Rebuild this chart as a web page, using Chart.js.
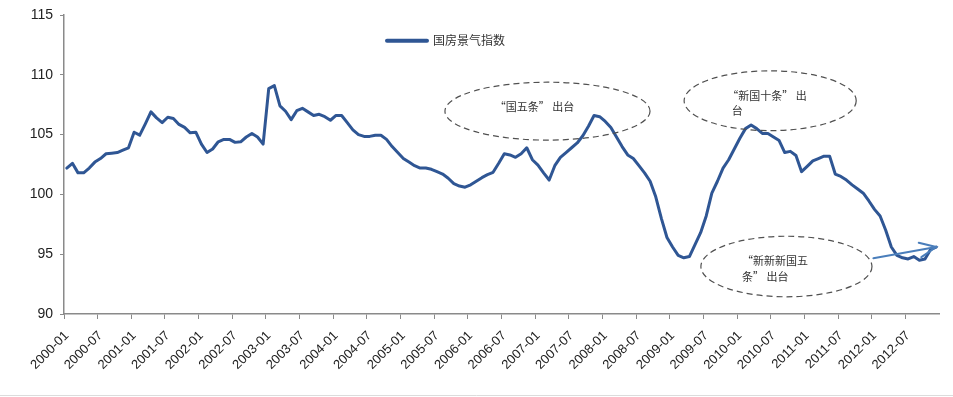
<!DOCTYPE html>
<html><head><meta charset="utf-8">
<script src="https://cdn.jsdelivr.net/npm/chart.js@4.4.1/dist/chart.umd.min.js"></script>
<style>html,body{margin:0;padding:0;background:#fff;}#wrap{width:953px;height:397px;position:relative;}</style>
</head><body><div id="wrap"><canvas id="c" width="953" height="397"></canvas></div>
<script>
const years = [2000,2001,2002,2003,2004,2005,2006,2007,2008,2009,2010,2011,2012];
const months = ['01','02','03','04','05','06','07','08','09','10','11','12'];
const shownMonths = ['01','07'];
const categories = years.flatMap(y => months.map(m => y + '-' + m));
const seriesName = '国房景气指数';
const values = [
 102.2,102.6,101.8,101.8,102.2,102.7,103.0,103.4,103.45,103.5,103.7,103.9,
 105.2,104.95,105.9,106.9,106.4,106.0,106.45,106.35,105.85,105.6,105.15,105.2,
 104.2,103.5,103.8,104.4,104.6,104.6,104.35,104.4,104.8,105.1,104.8,104.2,
 108.85,109.1,107.4,106.95,106.25,107.0,107.2,106.9,106.6,106.7,106.5,106.2,
 106.6,106.6,106.0,105.4,105.0,104.85,104.85,104.95,104.95,104.6,104.0,103.5,
 103.0,102.7,102.4,102.2,102.2,102.1,101.9,101.7,101.35,100.9,100.7,100.6,
 100.8,101.1,101.4,101.65,101.85,102.6,103.4,103.3,103.1,103.4,103.9,102.9,
 102.45,101.8,101.2,102.4,103.1,103.5,103.9,104.3,104.9,105.7,106.6,106.5,
 106.1,105.6,104.8,104.0,103.3,103.0,102.4,101.8,101.1,99.8,98.0,96.4,
 95.6,94.9,94.7,94.8,95.8,96.8,98.2,100.1,101.1,102.2,102.9,103.8,
 104.7,105.5,105.8,105.5,105.1,105.1,104.8,104.5,103.5,103.6,103.25,101.9,
 102.35,102.8,103.0,103.2,103.2,101.7,101.5,101.2,100.8,100.45,100.1,99.45,
 98.75,98.2,97.0,95.6,94.9,94.7,94.6,94.8,94.5,94.6,95.4,95.6
];
const yTicks = [90,95,100,105,110,115];
const noteTexts = [
  ['“国五条” 出台'],
  ['“新国十条” 出', '台'],
  ['“新新新国五', '条” 出台']
];

const lineColor = '#2F5694';
const axisColor = '#8A8A8A';

// annotation geometry (in scale units: category index / index value)
const notes = [
  { text: noteTexts[0], cx: 85.7, cy: 106.96, rx: 18.28, ry: 2.42, align: 'center', tx: [-13], ty: [-4.5] },
  { text: noteTexts[1], cx: 125.4, cy: 107.83, rx: 15.34, ry: 2.5, align: 'left', tx: [-43, -38.5], ty: [-5, 10] },
  { text: noteTexts[2], cx: 128.3, cy: 93.97, rx: 15.25, ry: 2.53, align: 'left', tx: [-44.5, -44.5], ty: [-6, 10.5] }
];
const arrow = { from: [143.8, 94.67], to: [155.0, 95.6] };

const deco = {
  id: 'deco',
  afterDatasetsDraw(chart) {
    const c = chart.ctx, xs = chart.scales.x, ys = chart.scales.y, ca = chart.chartArea;
    const catW = xs.getPixelForValue(1) - xs.getPixelForValue(0);
    const unitH = ys.getPixelForValue(0) - ys.getPixelForValue(1);
    c.save();
    notes.forEach(n => {
      const px = xs.getPixelForValue(n.cx), py = ys.getPixelForValue(n.cy);
      c.beginPath();
      c.setLineDash([6, 4]);
      c.strokeStyle = '#505050';
      c.lineWidth = 1.2;
      c.ellipse(px, py, n.rx * catW, n.ry * Math.abs(unitH), 0, 0, Math.PI * 2);
      c.stroke();
      c.setLineDash([]);
      c.fillStyle = '#333';
      c.font = '11px "Noto Sans CJK SC", sans-serif';
      c.textBaseline = 'middle';
      c.textAlign = n.align;
      n.text.forEach((t, k) => c.fillText(t, px + n.tx[k], py + n.ty[k]));
    });
    const x1 = xs.getPixelForValue(arrow.from[0]), y1 = ys.getPixelForValue(arrow.from[1]);
    const x2 = xs.getPixelForValue(arrow.to[0]), y2 = ys.getPixelForValue(arrow.to[1]);
    const ang = Math.atan2(y2 - y1, x2 - x1);
    c.strokeStyle = '#4A7EBB';
    c.lineWidth = 2;
    c.lineCap = 'round';
    c.beginPath(); c.moveTo(x1, y1); c.lineTo(x2, y2); c.stroke();
    const L = 18, a = 0.42;
    c.beginPath();
    c.moveTo(x2 - L * Math.cos(ang - a), y2 - L * Math.sin(ang - a));
    c.lineTo(x2, y2);
    c.lineTo(x2 - L * Math.cos(ang + a), y2 - L * Math.sin(ang + a));
    c.stroke();
    const lx = ca.left + 323, ly = ca.top + 25.7;
    c.strokeStyle = lineColor; c.lineWidth = 4; c.lineCap = 'round';
    c.beginPath(); c.moveTo(lx, ly); c.lineTo(lx + 40, ly); c.stroke();
    c.fillStyle = '#333'; c.font = '12px "Noto Sans CJK SC", sans-serif';
    c.textAlign = 'left'; c.textBaseline = 'middle';
    c.fillText(chart.data.datasets[0].label, lx + 46, ly);
    c.strokeStyle = '#DCDCDC'; c.lineWidth = 1;
    c.beginPath(); c.moveTo(0, 395.5); c.lineTo(chart.width, 395.5); c.stroke();
    c.restore();
  }
};

new Chart(document.getElementById('c'), {
  type: 'line',
  data: {
    labels: categories,
    datasets: [{ label: seriesName, data: values, borderColor: lineColor, borderWidth: 3,
      pointRadius: 0, tension: 0, fill: false, borderJoinStyle: 'round', borderCapStyle: 'round' }]
  },
  options: {
    responsive: false, animation: false, devicePixelRatio: 1,
    layout: { padding: { top: 15, right: 14, left: 0, bottom: 0 } },
    plugins: { legend: { display: false }, tooltip: { enabled: false } },
    scales: {
      x: {
        type: 'category', offset: true,
        grid: { offset: true, drawOnChartArea: false, drawTicks: true, tickLength: 5, lineWidth: 1,
          color: ctx => (ctx.index % 6 === 0 ? axisColor : 'rgba(0,0,0,0)') },
        border: { display: true, color: axisColor, width: 1.5 },
        ticks: {
          autoSkip: false, minRotation: 45, maxRotation: 45, padding: 9, labelOffset: 0,
          color: '#222', font: { family: '"Liberation Sans", Arial, sans-serif', size: 13 },
          callback: function (v) { const l = this.getLabelForValue(v); return shownMonths.includes(l.slice(5)) ? l : ''; }
        },
        afterFit: s => { s.height = 83; s.paddingLeft = 0; s.paddingRight = 0; s.paddingTop = 0; s.paddingBottom = 0; }
      },
      y: {
        min: yTicks[0], max: yTicks[yTicks.length - 1],
        afterBuildTicks: s => { s.ticks = yTicks.map(v => ({ value: v })); },
        grid: { drawOnChartArea: false, drawTicks: true, tickLength: 4, color: axisColor },
        border: { display: true, color: axisColor, width: 1.5 },
        ticks: { padding: 7, color: '#222', font: { family: '"Liberation Sans", Arial, sans-serif', size: 14 } },
        afterFit: s => { s.width = 64; s.paddingTop = 0; s.paddingBottom = 0; }
      }
    }
  },
  plugins: [deco]
});
</script>
</body></html>
